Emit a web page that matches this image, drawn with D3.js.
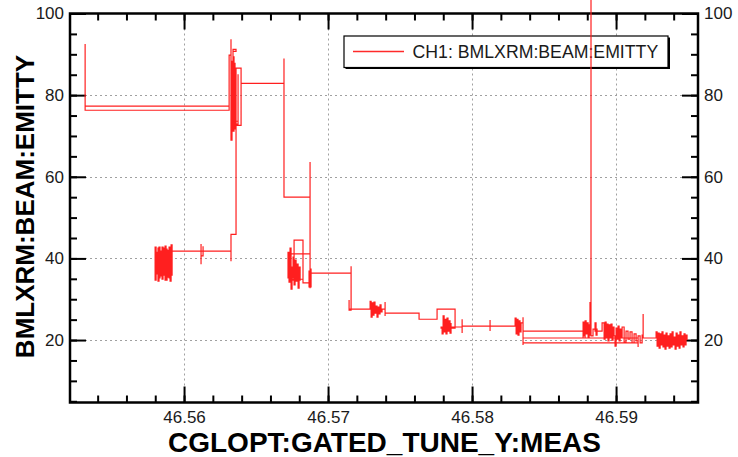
<!DOCTYPE html>
<html>
<head>
<meta charset="utf-8">
<script src="https://cdn.jsdelivr.net/npm/d3@7/dist/d3.min.js"></script>
<style>
  html, body { margin: 0; padding: 0; background: #fff; }
  svg { display: block; }
</style>
</head>
<body>
<svg id="chart" width="738" height="457"></svg>
<script>
// Readback trace: tune (x) against emittance (y), drawn as a held-value step line.
const tuneY = [
  46.55313, 46.55313, 46.56313, 46.55313, 46.56313,
  46.56326, 46.56326, 46.56333, 46.56340, 46.56361, 46.56340, 46.56347, 46.56347, 46.56354, 46.56340,
  46.56354, 46.56333, 46.56347, 46.56340, 46.56354, 46.56333, 46.56361, 46.56340, 46.56347, 46.56361,
  46.56361, 46.56326, 46.56326, 46.56132, 46.56132, 46.56118, 46.56118, 46.56118, 46.55917,
  46.55910, 46.55903, 46.55896, 46.55889, 46.55882, 46.55875, 46.55868, 46.55861, 46.55854, 46.55847,
  46.55840, 46.55833, 46.55826, 46.55819, 46.55813, 46.55806, 46.55799, 46.55806, 46.55813, 46.55819,
  46.55826, 46.55833, 46.55840, 46.55847, 46.55854, 46.55861, 46.55868, 46.55875, 46.55882, 46.55889,
  46.55896, 46.55903, 46.55910, 46.55917,
  46.56326, 46.56361, 46.56375, 46.56375, 46.56361, 46.56396, 46.56361, 46.56396,
  46.56694, 46.56694, 46.56875, 46.56875,
  46.56875, 46.56826, 46.56764, 46.56750, 46.56743, 46.56736, 46.56729, 46.56722, 46.56757, 46.56764,
  46.56771, 46.56778, 46.56785, 46.56792, 46.56799, 46.56806, 46.56743, 46.56826, 46.56743, 46.56875,
  46.56868, 46.56882, 46.56875, 46.57160, 46.57160, 46.57146, 46.57146,
  46.57292, 46.57299, 46.57306, 46.57313, 46.57319, 46.57326, 46.57333, 46.57340, 46.57347, 46.57354,
  46.57361, 46.57368, 46.57375, 46.57396, 46.57396, 46.57396,
  46.57632, 46.57757, 46.57882, 46.57785,
  46.57792, 46.57799, 46.57806, 46.57813, 46.57819, 46.57826, 46.57833, 46.57840, 46.57847, 46.57854,
  46.57854, 46.57931, 46.57931, 46.57931, 46.58125, 46.58125, 46.58125, 46.58299,
  46.58306, 46.58313, 46.58319, 46.58326, 46.58333, 46.58340, 46.58354, 46.58354, 46.58354,
  46.58785, 46.58354, 46.59153, 46.59153, 46.58771,
  46.58778, 46.58785, 46.58792, 46.58799, 46.58806, 46.58813, 46.58819, 46.58819, 46.58826, 46.58826,
  46.58840, 46.58868, 46.58861, 46.58854,
  46.58889, 46.58903, 46.58917, 46.58924, 46.58931, 46.58938, 46.58944, 46.58951, 46.58958, 46.58965,
  46.58972, 46.58979, 46.58986, 46.58993, 46.59000, 46.59007, 46.59014, 46.59021, 46.59028, 46.59035,
  46.59042, 46.59056, 46.59069, 46.59083, 46.59097, 46.59111, 46.59125, 46.59139, 46.59153, 46.59167,
  46.59181, 46.59188, 46.59188,
  46.59278, 46.59285, 46.59292, 46.59299, 46.59306, 46.59313, 46.59319, 46.59326, 46.59333, 46.59340,
  46.59347, 46.59354, 46.59361, 46.59368, 46.59375, 46.59382, 46.59389, 46.59396, 46.59403, 46.59410,
  46.59417, 46.59424, 46.59431, 46.59438, 46.59444, 46.59451, 46.59458, 46.59465, 46.59472, 46.59479,
  46.59486, 46.59493
];

const emitty = [
  92.5, 76.3, 77.3, 77.3, 89.8,
  93.7, 69.0, 88.3, 91.2, 90.7, 74.8, 89.5, 71.7, 85.9, 78.5,
  72.4, 83.4, 76.5, 87.8, 79.7, 73.6, 82.2, 71.2, 84.6, 71.2,
  45.9, 39.3, 41.8, 43.0, 40.6, 43.5, 38.6, 41.8, 43.3,
  34.4, 42.8, 35.4, 42.0, 34.7, 43.0, 36.4, 42.5, 34.9, 41.8,
  35.7, 42.8, 34.4, 41.5, 36.2, 42.8, 34.7, 41.3, 36.9, 42.5,
  35.2, 41.8, 37.4, 42.8, 35.9, 41.3, 34.7, 42.3, 36.6, 41.1,
  35.2, 42.5, 35.9, 41.8,
  45.9, 73.6, 85.1, 72.9, 86.6, 72.6, 72.6, 82.9,
  89.0, 55.0, 63.6, 32.7,
  34.0, 44.5, 37.9, 32.5, 42.5, 34.2, 41.5, 35.2, 40.3, 33.5,
  39.6, 34.4, 38.6, 32.7, 37.9, 34.7, 34.9, 41.1, 41.1, 36.9,
  33.0, 37.4, 36.4, 38.1, 27.3, 29.8, 27.6,
  29.5, 25.6, 29.1, 26.1, 29.3, 26.6, 28.3, 25.6, 28.1, 26.4,
  28.6, 26.9, 27.6, 29.3, 25.9, 26.6,
  25.1, 27.6, 22.9, 23.2,
  21.5, 25.9, 22.0, 25.1, 21.5, 25.4, 22.2, 24.7, 21.7, 24.2,
  23.2, 25.1, 21.7, 23.4, 24.9, 22.2, 23.4, 25.4,
  21.5, 25.1, 21.2, 24.7, 22.0, 24.2, 25.6, 18.8, 22.2,
  20.5, 19.3, 18.3, 20.5, 24.4,
  21.0, 24.7, 21.5, 24.2, 20.7, 23.7, 29.3, 21.2, 110.0, 21.0,
  22.7, 21.2, 24.2, 22.2,
  22.2, 24.2, 20.2, 24.4, 20.7, 23.9, 19.8, 23.7, 20.5, 23.9,
  20.0, 23.2, 21.0, 18.5, 22.9, 20.2, 23.4, 19.8, 22.7, 20.5,
  23.2, 19.5, 22.2, 20.2, 22.0, 19.3, 21.5, 19.8, 21.0, 19.3,
  21.2, 26.4, 20.5,
  22.0, 18.5, 21.7, 18.0, 21.5, 18.8, 22.0, 18.3, 21.2, 17.8,
  21.7, 18.5, 21.0, 18.0, 21.5, 18.3, 22.0, 18.8, 20.7, 17.8,
  21.7, 18.5, 21.2, 18.0, 22.0, 18.8, 21.0, 18.3, 21.5, 18.8,
  21.2, 20.0
];

const xMajorTicks = [46.56, 46.57, 46.58, 46.59];
const yMajorTicks = [20, 40, 60, 80, 100];
const xDomain = [46.55208, 46.59569];
const yDomain = [4.7, 100];
const seriesLabel = "CH1: BMLXRM:BEAM:EMITTY";
const xTitle = "CGLOPT:GATED_TUNE_Y:MEAS";
const yTitle = "BMLXRM:BEAM:EMITTY";

const svg = d3.select("#chart");
const L = 70, R = 698, T = 13.5, B = 402.5;
const font = "'Liberation Sans', Arial, sans-serif";

const x = d3.scaleLinear().domain(xDomain).range([L, R]);
const y = d3.scaleLinear().domain(yDomain).range([B, T]);

const xMinor = d3.range(46.552, 46.596, 0.002).filter(v => v > xDomain[0] && v < xDomain[1]);
const yMinor = d3.range(5, 100, 5);

// dotted grid at the major ticks
const grid = svg.append("g").attr("stroke", "#a0a0a0").attr("stroke-width", 1)
  .attr("stroke-dasharray", "2,3");
grid.selectAll("line.gx").data(xMajorTicks).join("line").attr("class", "gx")
  .attr("x1", d => Math.round(x(d)) + 0.5).attr("x2", d => Math.round(x(d)) + 0.5)
  .attr("y1", T).attr("y2", B);
grid.selectAll("line.gy").data(yMajorTicks.filter(v => v < 100)).join("line").attr("class", "gy")
  .attr("y1", d => Math.round(y(d)) + 0.5).attr("y2", d => Math.round(y(d)) + 0.5)
  .attr("x1", L).attr("x2", R);

function styleAxis(g, labels) {
  g.select(".domain").remove();
  g.selectAll(".tick line").attr("stroke", "#000").attr("stroke-width", 2);
  if (!labels) g.selectAll(".tick text").remove();
  g.selectAll(".tick text").attr("fill", "#1a1a1a").style("font-family", font).style("font-size", "17px");
}

// major + minor ticks on all four sides, pointing inward
const axes = [
  [d3.axisBottom, `translate(0,${B})`, x, xMajorTicks, xMinor, true],
  [d3.axisTop, `translate(0,${T})`, x, xMajorTicks, xMinor, false],
  [d3.axisLeft, `translate(${L},0)`, y, yMajorTicks, yMinor, true],
  [d3.axisRight, `translate(${R},0)`, y, yMajorTicks, yMinor, true]
];
axes.forEach(([fn, tr, sc, major, minor, labels]) => {
  svg.append("g").attr("transform", tr)
    .call(fn(sc).tickValues(minor).tickSize(-7))
    .call(g => styleAxis(g, false));
  const ax = fn(sc).tickValues(major).tickSizeInner(-16).tickSizeOuter(0)
    .tickPadding(fn === d3.axisBottom ? 8 : 6)
    .tickFormat(fn === d3.axisBottom || fn === d3.axisTop ? d3.format(".2f") : d3.format("d"));
  svg.append("g").attr("transform", tr).call(ax).call(g => styleAxis(g, labels));
});

// frame
svg.append("rect").attr("x", L).attr("y", T).attr("width", R - L).attr("height", B - T)
  .attr("fill", "none").attr("stroke", "#000").attr("stroke-width", 2.5);

// legend
const lg = svg.append("g");
lg.append("rect").attr("x", 345.5).attr("y", 37.5).attr("width", 324.5).attr("height", 31.5).attr("fill", "#000");
lg.append("rect").attr("x", 344).attr("y", 36).attr("width", 324).attr("height", 31.5)
  .attr("fill", "#fff").attr("stroke", "#000").attr("stroke-width", 1.2);
lg.append("line").attr("x1", 353).attr("x2", 404).attr("y1", 51.5).attr("y2", 51.5)
  .attr("stroke", "#ff2a2a").attr("stroke-width", 1.3);
lg.append("text").attr("x", 412.5).attr("y", 58.3).text(seriesLabel)
  .style("font-family", font).style("font-size", "17.7px").attr("fill", "#1a1a1a");

// data trace
const pts = tuneY.map((v, i) => [v, emitty[i]]);
const line = d3.line().x(d => x(d[0])).y(d => y(d[1])).curve(d3.curveStepAfter);
svg.append("path").datum(pts).attr("d", line)
  .attr("fill", "none").attr("stroke", "#ff1f1f").attr("stroke-width", 1.2)
  .attr("stroke-linejoin", "miter");

// axis titles
svg.append("text").attr("x", 384.5).attr("y", 452).attr("text-anchor", "middle")
  .style("font-family", font).style("font-size", "28px").style("font-weight", "bold")
  .attr("fill", "#000").text(xTitle);
svg.append("text").attr("transform", "translate(33.5,206.5) rotate(-90)").attr("text-anchor", "middle")
  .style("font-family", font).style("font-size", "26px").style("font-weight", "bold")
  .attr("fill", "#000").text(yTitle);
</script>
</body>
</html>
